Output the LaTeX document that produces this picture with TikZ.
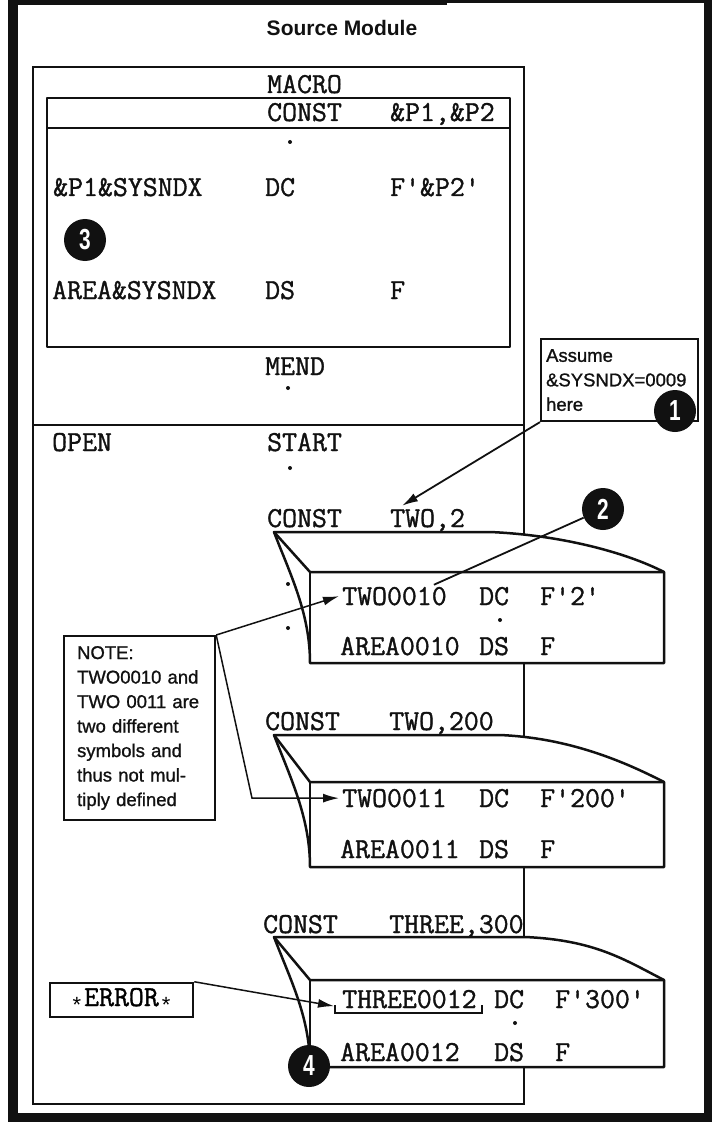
\documentclass[tikz,border=0pt]{standalone}
\usepackage{fontspec}
\setmainfont{Liberation Sans}
\newfontfamily\notefam{Liberation Sans}[FakeBold=1]
\newfontfamily\codefam{Latin Modern Mono}[FakeBold=1.2]
\usetikzlibrary{arrows.meta,positioning,calc}
\definecolor{InkBlack}{HTML}{111111}

\newcommand{\codefont}{\codefam\fontsize{29}{32}\selectfont}
\newcommand{\notefont}{\notefam\fontsize{18.5}{24.5}\selectfont}
\newcommand{\condig}[1]{\scalebox{0.72}[1]{#1}}
\newcommand{\errstar}{\raisebox{-6pt}{\fontsize{22}{22}\selectfont *}}

\tikzset{
  asm/.style={font=\codefont,text=InkBlack,inner sep=0pt,anchor=base west},
  vdot/.style={circle,fill=InkBlack,inner sep=0pt,minimum size=4pt},
  thinline/.style={draw=InkBlack,line width=1.5pt},
  boxline/.style={draw=InkBlack,line width=2.5pt,line join=round},
  numdot/.style={circle,fill=InkBlack,text=white,inner sep=0pt,minimum size=42pt,
                 font=\fontsize{29}{30}\selectfont\bfseries},
  sidenote/.style={draw=InkBlack,line width=2.2pt,fill=white,text=InkBlack,
                   font=\notefont,align=left,anchor=north west},
  pointer/.style={draw=InkBlack,line width=1.8pt,-{Latex[length=16pt,width=9pt]}},
  leader/.style={draw=InkBlack,line width=1.8pt}
}

% expanded macro call: lid y, end of flat lid, box top, box bottom
\newcommand{\expandbox}[4]{%
  \filldraw[boxline,fill=white] (274,#1) -- (#2,#1)
    .. controls ({#2+70},{#1+3}) and (625,{#3-20}) .. (664,#3)
    -- (664,#4) -- (310,#4)
    .. controls (310,{#4-50}) and (290,{#1+42}) .. (274,#1) -- cycle;
  \draw[boxline] (274,#1) -- (310,#3) -- (664,#3);
  \draw[boxline] (310,#3) -- (310,#4);
}

\begin{document}
\begin{tikzpicture}[x=1pt,y=-1pt]
  \useasboundingbox (0,0) rectangle (712,1123);

  % heavy frame
  \fill[InkBlack] (8,0) rectangle (18,1122);
  \fill[InkBlack] (8,0) rectangle (447,5);
  \fill[InkBlack] (447,0) rectangle (712,3);
  \fill[InkBlack] (704,0) rectangle (712,1122);
  \fill[InkBlack] (8,1113) rectangle (712,1122);

  \node[font=\fontsize{21}{24}\selectfont\bfseries,text=InkBlack] (title) at (342,28) {Source Module};

  % source module
  \draw[thinline] (33,67) rectangle (524,1104);
  \draw[thinline] (33,425) -- (524,425);

  % macro definition
  \draw[boxline] (47,98) rectangle (510,347);
  \draw[boxline] (47,128) -- (510,128);
  \node[asm] (macro) at (267,93) {MACRO};
  \node[asm] (mconst) at (267,121) {CONST};
  \node[asm] (mparms) at (390,121) {\&P1,\&P2};
  \node[vdot] (md1) at (290,142) {};
  \node[asm] (mlab1) at (53,196) {\&P1\&SYSNDX};
  \node[asm] (mop1) at (265,196) {DC};
  \node[asm] (mopd1) at (390,196) {F'\&P2'};
  \node[numdot] (n3) at (85,240) {\condig{3}};
  \node[asm] (mlab2) at (52,299) {AREA\&SYSNDX};
  \node[asm] (mop2) at (265,299) {DS};
  \node[asm] (mopd2) at (390,299) {F};
  \node[asm] (mend) at (265,375) {MEND};
  \node[vdot] (md2) at (288,388) {};

  % open code
  \node[asm] (open) at (52,451) {OPEN};
  \node[asm] (start) at (267,451) {START};
  \node[vdot] (sd1) at (290,468) {};

  \expandbox{532}{490}{572}{663}
  \expandbox{735}{500}{782}{867}
  \expandbox{937}{525}{980}{1067}

  \node[asm] (c1) at (267,527) {CONST};
  \node[asm] (two2) at (390,527) {TWO,2};
  \node[vdot] (sd2) at (288,584) {};
  \node[vdot] (sd3) at (288,628) {};
  \node[asm] (t10) at (342,605) {TWO0010};
  \node[asm] (t10op) at (479,605) {DC};
  \node[asm] (t10v) at (540,605) {F'2'};
  \node[vdot] (bd1) at (500,620) {};
  \node[asm] (a10) at (340,655) {AREA0010};
  \node[asm] (a10op) at (479,655) {DS};
  \node[asm] (a10v) at (540,655) {F};

  \node[asm] (c2) at (265,730) {CONST};
  \node[asm] (two200) at (389,730) {TWO,200};
  \node[asm] (t11) at (342,807) {TWO0011};
  \node[asm] (t11op) at (479,807) {DC};
  \node[asm] (t11v) at (540,807) {F'200'};
  \node[asm] (a11) at (340,858) {AREA0011};
  \node[asm] (a11op) at (479,858) {DS};
  \node[asm] (a11v) at (540,858) {F};

  \node[asm] (c3) at (263,933) {CONST};
  \node[asm] (three300) at (389,933) {THREE,300};
  \node[asm] (t12) at (342,1008) {THREE0012};
  \node[asm] (t12op) at (494,1008) {DC};
  \node[asm] (t12v) at (555,1008) {F'300'};
  \node[vdot] (bd3) at (515,1023) {};
  \node[asm] (a12) at (340,1061) {AREA0012};
  \node[asm] (a12op) at (494,1061) {DS};
  \node[asm] (a12v) at (555,1061) {F};
  \draw[InkBlack,line width=1.5pt] (t12.base west) ++(-7,-3) -- ++(0,8) -- ++(147,0) -- ++(0,-8);

  % notes
  \node[sidenote,text width=147pt,inner xsep=5pt,inner ysep=10pt] (assume) at (540,338)
    {Assume\\\&SYSNDX=0009\\here};
  \node[numdot] (n1) at (675,411) {\condig{1}};
  \node[numdot] (n2) at (603,509) {\condig{2}};

  \node[sidenote,text width=125pt,inner xsep=13pt,inner ysep=10pt] (notebox) at (63,635)
    {NOTE:\\TWO0010 and\\TWO 0011 are\\two different\\symbols and\\thus not mul-\\tiply defined};

  \node[draw=InkBlack,line width=2.5pt,minimum width=143pt,minimum height=34pt,inner sep=0pt]
    (err) at (121.5,1000)
    {\errstar\hspace{3pt}{\codefont ERROR}\hspace{3pt}\errstar};

  \node[numdot] (n4) at (309,1066) {\condig{4}};

  % connectors
  \coordinate (nbend) at (252,0);
  \draw[pointer] (assume.south west) -- ([xshift=12pt,yshift=3pt]two2.north west);
  \draw[leader] (n2) -- ([xshift=-13pt,yshift=2pt]t10.north east);
  \draw[pointer,line width=1.5pt] (notebox.north east) -- ([xshift=-3pt]t10.west);
  \draw[pointer,line width=1.5pt] (notebox.north east) -- (nbend |- t11.west) -- ([xshift=-3pt]t11.west);
  \draw[pointer,line width=1.5pt] (err.north east) -- ([xshift=-8pt,yshift=-7pt]t12.west);
\end{tikzpicture}
\end{document}
